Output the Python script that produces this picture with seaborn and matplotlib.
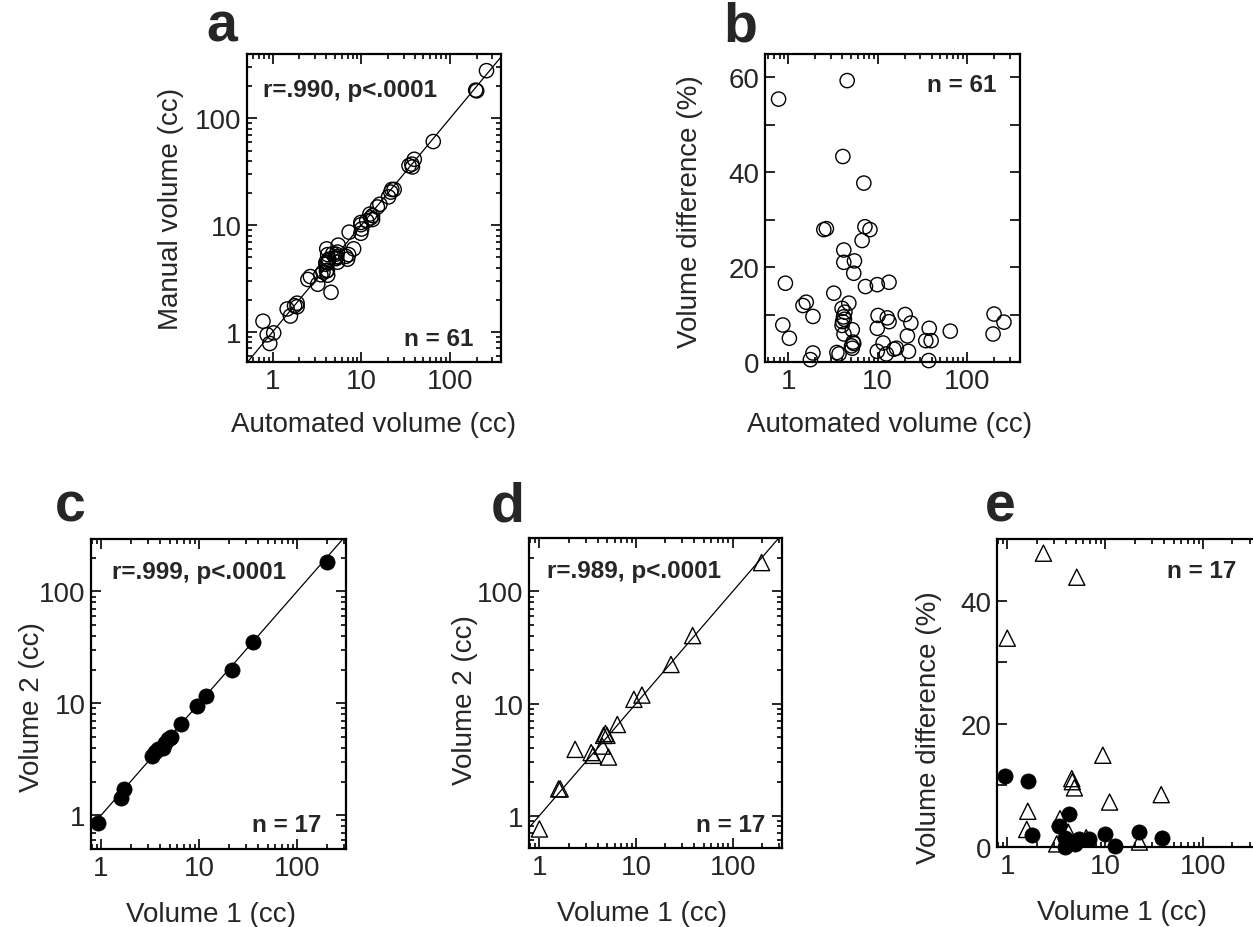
import seaborn as sns
import pandas as pd
import matplotlib.pyplot as plt
from matplotlib import ticker

# panel a / b : automated vs manual volume, 61 lesions
auto_vol = [0.78, 4.56, 4.08, 7.0, 2.5, 2.67, 7.2, 8.2, 6.7, 4.18,
            4.18, 5.5, 5.4, 0.93, 7.3, 9.9, 13.4, 3.23, 1.59, 1.46,
            4.76, 4.0, 1.89, 4.15, 4.25, 4.05, 10.1, 12.8, 13.4, 20.3,
            23.5, 0.87, 9.9, 5.2, 4.2, 37.7, 64.8, 200, 258, 195,
            1.03, 21.5, 5.3, 5.4, 5.1, 5.2, 34.5, 39.6, 11.5, 9.9,
            15.2, 16.2, 12.5, 22.1, 3.5, 3.7, 1.89, 1.77, 37.2, 4.0,
            4.3]
manual_vol = [1.26, 2.35, 6.0, 4.8, 3.1, 3.3, 5.3, 6.0, 5.1, 5.3,
              3.4, 6.5, 4.5, 0.78, 8.6, 8.4, 11.3, 2.8, 1.41, 1.64,
              5.4, 4.5, 1.72, 3.78, 4.65, 3.72, 9.2, 11.7, 12.3, 18.4,
              21.6, 0.94, 10.6, 4.86, 4.46, 35.1, 60.7, 181, 280, 184,
              0.98, 20.4, 5.08, 5.6, 4.93, 5.35, 36.1, 41.4, 11.0, 10.1,
              14.8, 15.7, 12.7, 21.6, 3.43, 3.64, 1.86, 1.76, 37.3, 4.3,
              4.8]
vol_diff = [55.4, 59.3, 43.3, 37.7, 27.9, 28.1, 28.5, 27.9, 25.6, 23.6,
            21.0, 21.3, 18.7, 16.6, 15.9, 16.3, 16.8, 14.5, 12.6, 11.9,
            12.4, 11.3, 9.6, 9.5, 9.0, 8.5, 9.8, 9.3, 8.5, 10.0,
            8.2, 7.8, 7.1, 6.8, 5.9, 7.1, 6.5, 10.1, 8.4, 5.9,
            5.0, 5.5, 4.2, 3.9, 3.4, 2.9, 4.5, 4.5, 4.0, 2.25,
            2.7, 2.9, 1.7, 2.25, 2.0, 1.7, 1.9, 0.5, 0.3, 7.7,
            10.5]

# panel c : repeat measurement (filled circles)
c_vol1 = [0.94, 1.59, 1.73, 3.29, 3.56, 3.85, 4.32, 4.5, 4.86, 5.0,
          5.14, 6.5, 9.47, 11.8, 21.5, 35.8, 203]
c_vol2 = [0.86, 1.44, 1.73, 3.39, 3.67, 3.88, 4.02, 4.4, 4.77, 4.9,
          5.05, 6.6, 9.46, 11.6, 19.8, 35.3, 183]

# panel d : repeat measurement (open triangles)
d_vol1 = [1.0, 1.58, 1.64, 2.34, 3.43, 3.6, 4.46, 4.62, 4.82, 5.0,
          5.18, 6.4, 9.5, 11.5, 23.0, 38.5, 199]
d_vol2 = [0.76, 1.73, 1.73, 3.9, 3.65, 3.45, 4.17, 5.2, 5.4, 5.2,
          3.33, 6.5, 10.9, 11.9, 22.3, 40.4, 181]

# panel e : volume differences
e_circ_vol1 = [0.95, 1.62, 1.78, 3.38, 4.32, 3.9, 3.9, 4.9, 5.37, 6.8,
               9.85, 12.5, 22.3, 37.7, 4.6, 5.1]
e_circ_diff = [11.6, 10.7, 2.0, 3.4, 5.4, 1.46, 0.0, 0.5, 1.35, 1.23,
               2.16, 0.1, 2.43, 1.5, 0.8, 1.0]
e_tri_vol1 = [2.34, 5.13, 1.0, 9.47, 4.56, 4.62, 4.85, 37.4, 11.1, 1.62,
              1.58, 3.46, 4.2, 3.2, 22.4, 6.4]
e_tri_diff = [47.7, 43.8, 33.9, 14.9, 11.1, 10.6, 9.6, 8.5, 7.3, 5.8,
              2.85, 4.6, 2.4, 0.5, 0.8, 1.5]

sns.set_style("ticks")
plt.rcParams['font.family'] = ['Liberation Sans', 'DejaVu Sans']

W, H = 1253, 928
fig = plt.figure(figsize=(W / 100, H / 100), dpi=100)


def px_axes(l, r, t, b):
    return fig.add_axes([l / W, 1 - b / H, (r - l) / W, (b - t) / H])


def style(ax, logy=True):
    for s in ax.spines.values():
        s.set_linewidth(1.6)
        s.set_color('black')
    ax.set_xscale('log')
    ax.xaxis.set_major_locator(ticker.FixedLocator([1, 10, 100]))
    ax.xaxis.set_major_formatter(ticker.FormatStrFormatter('%g'))
    ax.xaxis.set_minor_locator(ticker.LogLocator(subs=range(2, 10)))
    ax.xaxis.set_minor_formatter(ticker.NullFormatter())
    if logy:
        ax.set_yscale('log')
        ax.yaxis.set_major_locator(ticker.FixedLocator([1, 10, 100]))
        ax.yaxis.set_major_formatter(ticker.FormatStrFormatter('%g'))
        ax.yaxis.set_minor_locator(ticker.LogLocator(subs=range(2, 10)))
        ax.yaxis.set_minor_formatter(ticker.NullFormatter())
    else:
        ax.yaxis.set_major_locator(ticker.MultipleLocator(10))
        ax.yaxis.set_major_formatter(
            ticker.FuncFormatter(lambda v, p: '%d' % v if round(v) % 20 == 0 else ''))
    ax.tick_params(which='both', direction='in', top=True, right=True,
                   labelsize=20, width=1.2, color='black')
    ax.tick_params(which='major', length=7, pad=4)
    ax.tick_params(which='minor', length=3.5)


def labels(ax, xl, yl, xpos, ypos, xfr=0.5, yfr=0.5):
    ax.set_xlabel(xl, fontsize=20)
    ax.set_ylabel(yl, fontsize=20)
    ax.xaxis.set_label_coords(xfr, xpos)
    ax.yaxis.set_label_coords(ypos, yfr)


def note(ax, x, y, s, ha='left'):
    ax.text(x, y, s, transform=ax.transAxes, ha=ha, va='baseline',
            fontsize=17.5, fontweight='bold')


open_circ = dict(marker='o', s=105, facecolor='none', edgecolor='black',
                 linewidth=1.0, legend=False)
filled_circ = dict(marker='o', s=120, color='black', edgecolor='black',
                   linewidth=0.5, legend=False)
open_tri = dict(marker='^', s=135, facecolor='none', edgecolor='black',
                linewidth=1.0, legend=False)

df_ab = pd.DataFrame({'auto': auto_vol, 'manual': manual_vol, 'diff': vol_diff})

# a
ax = px_axes(247, 501, 55, 363)
sns.scatterplot(data=df_ab, x='auto', y='manual', ax=ax, **open_circ)
style(ax)
ax.set_xlim(0.515, 376)
ax.set_ylim(0.523, 401)
ax.axline((1, 1), (10, 10), color='black', linewidth=0.9)
labels(ax, 'Automated volume (cc)', 'Manual volume (cc)', -0.158, -0.25)
note(ax, 0.062, 0.865, 'r=.990, p<.0001')
note(ax, 0.891, 0.055, 'n = 61', ha='right')

# b
ax = px_axes(765, 1020, 55, 363)
sns.scatterplot(data=df_ab, x='auto', y='diff', ax=ax, clip_on=False, **open_circ)
style(ax, logy=False)
ax.set_xlim(0.55, 390)
ax.set_ylim(0, 64.9)
labels(ax, 'Automated volume (cc)', 'Volume difference (%)', -0.158, -0.245,
       xfr=0.49, yfr=0.49)
note(ax, 0.909, 0.881, 'n = 61', ha='right')

# c
ax = px_axes(91, 346, 540, 850)
sns.scatterplot(x=c_vol1, y=c_vol2, ax=ax, **filled_circ)
style(ax)
ax.set_xlim(0.79, 316)
ax.set_ylim(0.5, 294)
ax.axline((1, 1), (10, 10), color='black', linewidth=0.9)
labels(ax, 'Volume 1 (cc)', 'Volume 2 (cc)', -0.168, -0.18, xfr=0.47, yfr=0.46)
note(ax, 0.081, 0.874, 'r=.999, p<.0001')
note(ax, 0.905, 0.059, 'n = 17', ha='right')

# d
ax = px_axes(529, 782, 539, 849)
sns.scatterplot(x=d_vol1, y=d_vol2, ax=ax, **open_tri)
style(ax)
ax.set_xlim(0.78, 324)
ax.set_ylim(0.514, 300)
ax.axline((1, 1), (10, 10), color='black', linewidth=0.9)
labels(ax, 'Volume 1 (cc)', 'Volume 2 (cc)', -0.168, -0.2, xfr=0.447, yfr=0.48)
note(ax, 0.07, 0.874, 'r=.989, p<.0001')
note(ax, 0.933, 0.055, 'n = 17', ha='right')

# e (right side runs past the figure edge)
ax = px_axes(997, 1264, 540, 848)
sns.scatterplot(x=e_tri_vol1, y=e_tri_diff, ax=ax, clip_on=False, **open_tri)
sns.scatterplot(x=e_circ_vol1, y=e_circ_diff, ax=ax, clip_on=False, **filled_circ)
style(ax, logy=False)
ax.set_xlim(0.785, 420)
ax.set_ylim(0, 50)
labels(ax, 'Volume 1 (cc)', 'Volume difference (%)', -0.168, -0.205,
       xfr=0.47, yfr=0.39)
note(ax, 0.895, 0.876, 'n = 17', ha='right')

# panel letters
for s, x, y in [('a', 222, 42), ('b', 740, 42), ('c', 70, 521),
                ('d', 508, 521), ('e', 1000, 521)]:
    fig.text(x / W, 1 - y / H, s, ha='center', va='baseline',
             fontsize=40, fontweight='bold')

fig.savefig('out.png', dpi=100)
